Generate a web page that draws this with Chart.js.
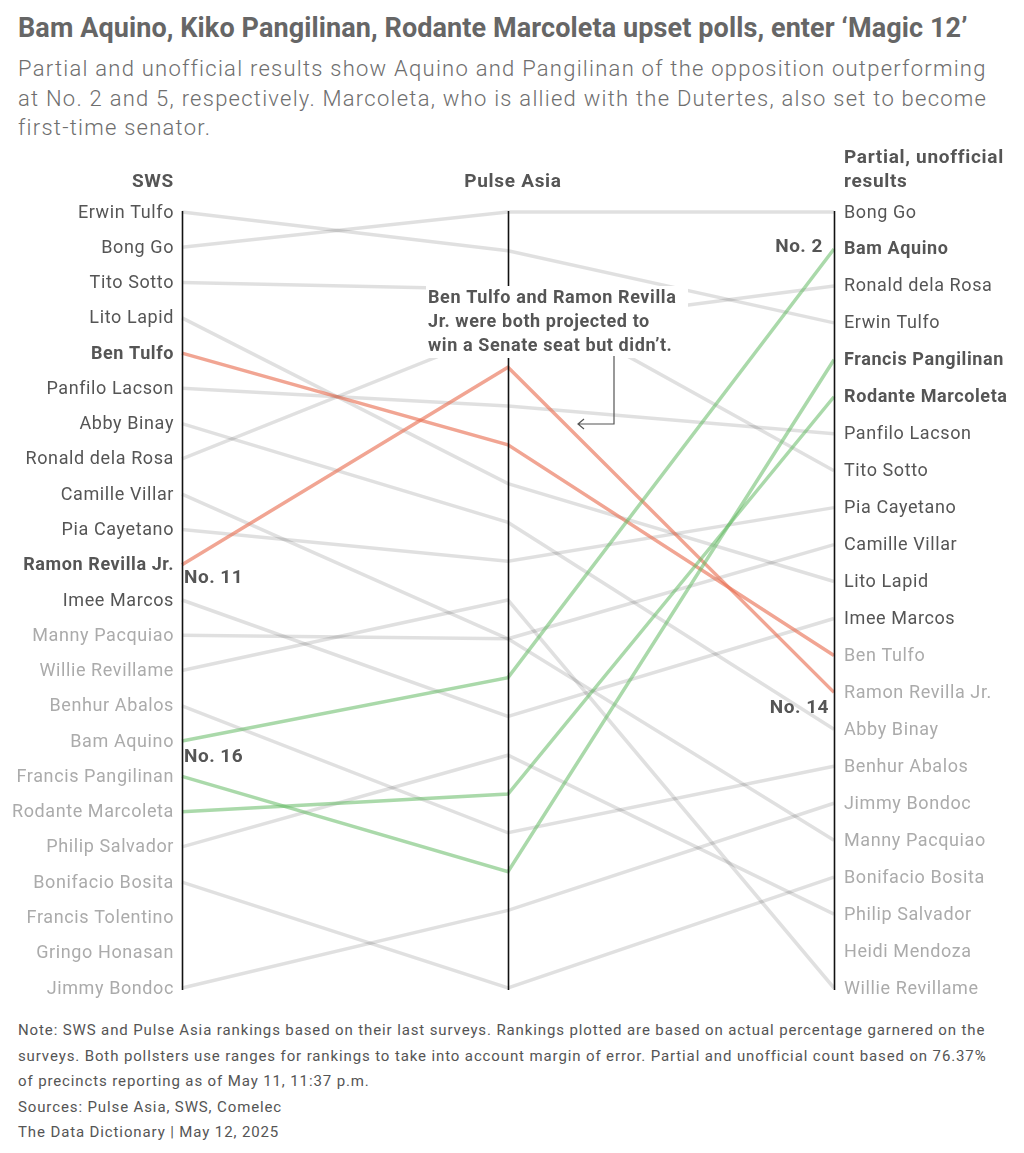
<!DOCTYPE html>
<html>
<head>
<meta charset="utf-8">
<script src="https://cdn.jsdelivr.net/npm/chart.js@4.4.1/dist/chart.umd.min.js"></script>
<style>
  body { margin: 0; background: #fff; font-family: Roboto, "Noto Sans", sans-serif; }
  #wrap { position: relative; width: 1024px; height: 1153px; overflow: hidden; }
  #title { position: absolute; left: 18px; top: 12px; font-size: 27px; font-weight: 700; color: #666;
           white-space: nowrap; letter-spacing: 0.1px; }
  #sub { position: absolute; left: 18px; top: 54px; font-size: 22px; font-weight: 300; color: #6e6e6e;
         line-height: 29.5px; white-space: nowrap; letter-spacing: 1.25px; }
  #chartBox { position: absolute; left: 0; top: 140px; width: 1024px; height: 870px; }
  #notes { position: absolute; left: 18px; top: 1018px; font-size: 15px; color: #555; line-height: 25.6px;
           white-space: nowrap; letter-spacing: 0.88px; }
</style>
</head>
<body>
<div id="wrap">
  <div id="title">Bam Aquino, Kiko Pangilinan, Rodante Marcoleta upset polls, enter ‘Magic 12’</div>
  <div id="sub">Partial and unofficial results show Aquino and Pangilinan of the opposition outperforming<br>at No. 2 and 5, respectively. Marcoleta, who is allied with the Dutertes, also set to become<br>first-time senator.</div>
  <div id="chartBox"><canvas id="slope-chart"></canvas></div>
  <div id="notes">Note: SWS and Pulse Asia rankings based on their last surveys. Rankings plotted are based on actual percentage garnered on the<br>surveys. Both pollsters use ranges for rankings to take into account margin of error. Partial and unofficial count based on 76.37%<br>of precincts reporting as of May 11, 11:37 p.m.<br>Sources: Pulse Asia, SWS, Comelec<br>The Data Dictionary | May 12, 2025</div>
</div>
<script>
const candidates = [
  "Bong Go", "Bam Aquino", "Ronald dela Rosa", "Erwin Tulfo", "Francis Pangilinan",
  "Rodante Marcoleta", "Panfilo Lacson", "Tito Sotto", "Pia Cayetano", "Camille Villar",
  "Lito Lapid", "Imee Marcos", "Ben Tulfo", "Ramon Revilla Jr.", "Abby Binay",
  "Benhur Abalos", "Jimmy Bondoc", "Manny Pacquiao", "Bonifacio Bosita", "Philip Salvador",
  "Heidi Mendoza", "Willie Revillame", "Francis Tolentino", "Gringo Honasan"
];
// rank positions (null = not on that column)
const swsRank    = [2, 16, 8, 1, 17, 18, 6, 3, 10, 9, 4, 12, 5, 11, 7, 15, 23, 13, 20, 19, null, 14, 21, 22];
const pulseRank  = [1, 13, 4, 2, 18, 16, 6, 3, 10, 12, 8, 14, 7, 5, 9, 17, 19, 12, 21, 15, null, 11, null, null];
const resultRank = [1, 2, 3, 4, 5, 6, 7, 8, 9, 10, 11, 12, 13, 14, 15, 16, 17, 18, 19, 20, 21, 22, null, null];
const columnSlots = [23, 21, 22];
const columnTitles = ["SWS", "Pulse Asia", "Partial, unofficial|results"];

const upset = ["Bam Aquino", "Francis Pangilinan", "Rodante Marcoleta"];
const missed = ["Ben Tulfo", "Ramon Revilla Jr."];

const GREY_LINE = "rgba(0,0,0,0.12)";
const RED_LINE = "rgba(232,110,80,0.62)";
const GREEN_LINE = "rgba(100,185,100,0.55)";
const DARK = "#555";
const LIGHT = "#ababab";

function pos(rank, col) {
  return rank == null ? null : (rank - 1) / (columnSlots[col] - 1);
}

const datasets = [];
candidates.forEach((name, i) => {
  const ranks = [swsRank[i], pulseRank[i], resultRank[i]];
  const pts = [];
  ranks.forEach((r, col) => { if (r != null) pts.push({ x: col, y: pos(r, col) }); });
  if (pts.length < 2) return;
  let color = GREY_LINE;
  if (upset.includes(name)) color = GREEN_LINE;
  if (missed.includes(name)) color = RED_LINE;
  datasets.push({
    label: name,
    data: pts,
    borderColor: color,
    borderWidth: 3.5,
    pointRadius: 0,
    tension: 0,
    fill: false,
    clip: false,
    order: color === GREY_LINE ? 2 : 1
  });
});

function setFont(ctx, weight, size, spacing) {
  ctx.font = weight + " " + size + "px Roboto";
  ctx.letterSpacing = spacing + "px";
}

// axes, labels and notes
const slopeDecor = {
  id: "slopeDecor",
  afterDatasetsDraw(chart) {
    const { ctx, scales: { x, y } } = chart;
    const top = y.getPixelForValue(0), bottom = y.getPixelForValue(1);
    ctx.save();
    // vertical axes
    ctx.strokeStyle = "#111";
    ctx.lineWidth = 1.6;
    [0, 1, 2].forEach(c => {
      const px = Math.round(x.getPixelForValue(c)) + 0.5;
      ctx.beginPath();
      ctx.moveTo(px, top - 1);
      ctx.lineTo(px, bottom + 2);
      ctx.stroke();
    });

    const xl = x.getPixelForValue(0), xm = x.getPixelForValue(1), xr = x.getPixelForValue(2);
    ctx.textBaseline = "middle";

    // column titles
    ctx.fillStyle = DARK;
    setFont(ctx, 700, 19, 0.7);
    ctx.textAlign = "right";
    ctx.fillText(columnTitles[0], xl - 8, top - 30);
    ctx.textAlign = "center";
    ctx.fillText(columnTitles[1], xm + 5, top - 30);
    ctx.textAlign = "left";
    columnTitles[2].split("|").forEach((t, k) => ctx.fillText(t, xr + 10, top - 54 + k * 24));

    // names
    candidates.forEach((name, i) => {
      if (swsRank[i] != null) {
        const bold = missed.includes(name);
        setFont(ctx, bold ? 700 : 400, 18, 0.6);
        ctx.fillStyle = swsRank[i] <= 12 ? DARK : LIGHT;
        ctx.textAlign = "right";
        ctx.fillText(name, xl - 8, y.getPixelForValue(pos(swsRank[i], 0)) + 1);
      }
      if (resultRank[i] != null) {
        const bold = upset.includes(name);
        setFont(ctx, bold ? 700 : 400, 18, 0.6);
        ctx.fillStyle = resultRank[i] <= 12 ? DARK : LIGHT;
        ctx.textAlign = "left";
        ctx.fillText(name, xr + 10, y.getPixelForValue(pos(resultRank[i], 2)) + 1);
      }
    });

    // rank callouts
    ctx.fillStyle = DARK;
    setFont(ctx, 700, 19, 0.5);
    const revilla = candidates.indexOf("Ramon Revilla Jr.");
    const aquino = candidates.indexOf("Bam Aquino");
    ctx.textAlign = "left";
    ctx.fillText("No. 11", xl + 2, y.getPixelForValue(pos(swsRank[revilla], 0)) + 14);
    ctx.fillText("No. 16", xl + 2, y.getPixelForValue(pos(swsRank[aquino], 0)) + 16);
    ctx.textAlign = "right";
    ctx.fillText("No. 2", xr - 11, y.getPixelForValue(pos(resultRank[aquino], 2)) - 2);
    ctx.fillText("No. 14", xr - 5, y.getPixelForValue(pos(resultRank[revilla], 2)) + 16);

    // note box
    const noteLines = ["Ben Tulfo and Ramon Revilla", "Jr. were both projected to", "win a Senate seat but didn’t."];
    const nx = xm - 80, ny = top + 86;
    setFont(ctx, 700, 18, 0.6);
    ctx.textAlign = "left";
    ctx.fillStyle = "#fff";
    ctx.fillRect(nx - 2, ny - 12, 262, 72);
    ctx.fillStyle = DARK;
    noteLines.forEach((t, k) => ctx.fillText(t, nx, ny + k * 24));

    // arrow
    ctx.strokeStyle = "#555";
    ctx.lineWidth = 1.2;
    const ax = xm + 106, ay1 = ny + 58, ay2 = ny + 126, ax2 = xm + 70;
    ctx.beginPath();
    ctx.moveTo(ax, ay1);
    ctx.lineTo(ax, ay2);
    ctx.lineTo(ax2, ay2);
    ctx.moveTo(ax2 + 6, ay2 - 5);
    ctx.lineTo(ax2, ay2);
    ctx.lineTo(ax2 + 6, ay2 + 5);
    ctx.stroke();
    ctx.restore();
  }
};

new Chart(document.getElementById("slope-chart").getContext("2d"), {
  type: "line",
  data: { datasets: datasets },
  options: {
    responsive: true,
    maintainAspectRatio: false,
    animation: false,
    layout: { padding: { left: 182, right: 190, top: 72, bottom: 22 } },
    scales: {
      x: { type: "linear", min: 0, max: 2, display: false },
      y: { type: "linear", min: 0, max: 1, reverse: true, display: false }
    },
    plugins: { legend: { display: false }, tooltip: { enabled: false } }
  },
  plugins: [slopeDecor]
});
</script>
</body>
</html>
